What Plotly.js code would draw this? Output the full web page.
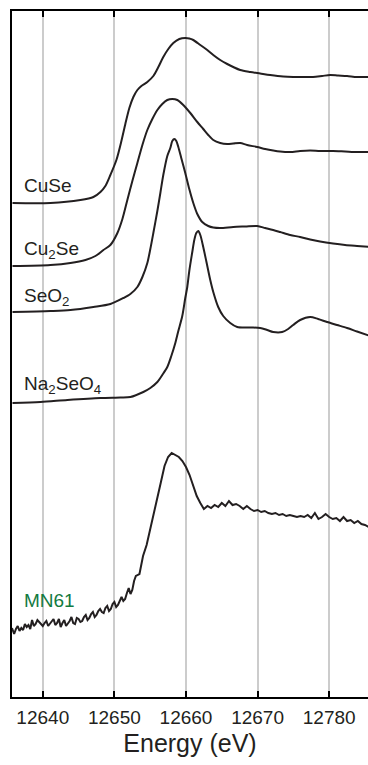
<!DOCTYPE html>
<html>
<head>
<meta charset="utf-8">
<script src="https://cdn.plot.ly/plotly-3.0.1.min.js"></script>
<style>
html,body{margin:0;padding:0;background:#fff;}
#chart{width:368px;height:765px;}
</style>
</head>
<body>
<div id="chart"></div>
<script>
// Energy (eV) and stacked normalized absorbance (a.u., offset for display)
const cuseE = [12635.77,12641.07,12645.26,12647.07,12648.05,12648.74,12649.44,12650.28,12650.98,12651.53,12652.09,12652.65,12653.21,12653.77,12654.60,12655.44,12656.14,12656.83,12657.53,12658.23,12659.07,12659.90,12660.46,12661.02,12662.00,12662.97,12663.81,12664.78,12665.76,12666.60,12667.57,12668.97,12670.36,12671.76,12673.57,12674.97,12676.36,12677.75,12679.01,12680.13,12681.24,12682.50,12683.89,12685.70];
const cuseY = [494,494,497,500,505,511,522,537,556,573,589,600,607,611,615,621,630,640,648,654,658,659,658.5,657,652,647,642,637,633,630,627,625,623.5,622,620.5,620,620,620,621,622,621.5,621,620,620];

const cu2seE = [12635.77,12641.07,12643.86,12645.96,12647.35,12648.47,12649.44,12650.42,12651.12,12651.81,12652.51,12653.21,12653.91,12654.60,12655.30,12656.00,12656.69,12657.39,12658.09,12658.79,12659.62,12660.60,12661.58,12662.41,12663.11,12663.81,12664.78,12665.76,12666.60,12667.57,12668.54,12669.94,12671.06,12672.18,12673.15,12674.55,12675.94,12677.34,12678.73,12680.54,12682.22,12683.89,12685.70];
const cu2seY = [431,432,434,437,441,447,452,464,478,497,516,534,552,567,578,587,593,597,598,597,592,584,575,568,562,557,554,553,553.5,554,552,550,548,546.5,545.5,545,546,546.5,546,546,545.5,545,545];

const seo2E = [12635.77,12641.07,12643.86,12647.07,12649.44,12651.26,12652.23,12653.21,12653.91,12654.60,12655.02,12655.44,12656.00,12656.42,12656.83,12657.39,12657.81,12658.09,12658.37,12658.65,12658.93,12659.34,12659.90,12660.46,12661.02,12661.58,12662.27,12663.11,12663.81,12664.78,12666.60,12668.27,12669.94,12671.06,12672.18,12673.15,12674.55,12675.94,12677.34,12678.73,12680.54,12682.22,12683.89,12685.70];
const seo2Y = [385,386,387,390,393,399,403,410,420,434,448,464,486,504,522,541,549,556,558,556,550,539,524,508,494,483,475,471,469.5,469,470,470.5,471,469,467,465,462,460,457.5,455.5,453.5,452,451,450];

const na2seo4E = [12635.77,12639.68,12643.44,12648.05,12650.84,12652.23,12654.04,12655.02,12656.00,12656.69,12657.39,12657.95,12658.51,12658.93,12659.48,12659.90,12660.18,12660.46,12660.88,12661.16,12661.44,12661.72,12662.00,12662.41,12662.83,12663.39,12663.81,12664.50,12665.20,12666.18,12667.15,12668.97,12670.36,12671.34,12672.18,12673.43,12674.27,12674.97,12675.94,12677.34,12678.45,12679.71,12681.10,12682.50,12683.89,12685.70];
const na2seo4Y = [294,295,297,299,299.5,300,305,309,315,322,330,341,354,366,381,399,410,426,445,457,464,466,462,450,436,417,405,390,381,374,370,369.5,369,367,365,365,368,372,377,380,378,375,372,369,365.5,361];

const mn61E = [12635.7,12636.0,12636.25,12636.5,12636.75,12637.0,12637.25,12637.5,12637.75,12638.0,12638.25,12638.5,12638.75,12639.0,12639.25,12639.5,12639.75,12640.0,12640.25,12640.5,12640.75,12641.0,12641.25,12641.5,12641.75,12642.0,12642.25,12642.5,12642.75,12643.0,12643.25,12643.5,12643.75,12644.0,12644.25,12644.5,12644.75,12645.0,12645.25,12645.5,12645.75,12646.0,12646.25,12646.5,12646.75,12647.0,12647.25,12647.5,12647.75,12648.0,12648.25,12648.5,12648.75,12649.0,12649.25,12649.5,12649.75,12650.0,12650.25,12650.5,12650.75,12651.0,12651.25,12651.5,12651.75,12652.0,12652.25,12652.5,12652.75,12653.0,12653.5,12654.0,12654.5,12655.0,12655.5,12656.0,12656.5,12657.0,12657.5,12658.0,12658.5,12659.0,12659.5,12660.0,12660.5,12661.0,12661.5,12662.0,12662.5,12663.0,12663.5,12664.0,12664.5,12665.0,12665.5,12666.0,12666.5,12667.0,12667.5,12668.0,12668.5,12669.0,12669.5,12670.0,12670.5,12671.0,12671.5,12672.0,12672.5,12673.0,12673.5,12674.0,12674.5,12675.0,12675.5,12676.0,12676.5,12677.0,12677.5,12678.0,12678.5,12679.0,12679.5,12680.0,12680.5,12681.0,12681.5,12682.0,12682.5,12683.0,12683.5,12684.0,12684.5,12685.0,12685.5];
const mn61Y = [69,63,68,71,66,69,67,73,70,72,68,77,71,73,77,75,72,71,74,76,71,73,75,78,72,74,78,70,74,77,71,73,76,80,74,73,79,78,75,76,80,82,77,79,83,85,80,82,86,88,85,84,89,91,86,88,93,95,90,92,97,100,96,98,104,109,103,107,116,121,123,141,152,167,182,198,215,231,240,244,242,240,236,230,222,212,201,194,188,191,189,192,190,194,191,196,192,193,191,188,191,188,186,187,185,186,184,183,184,182,183,181,182,181,180,181,180,182,179,184,178,180,183,180,178,179,176,180,176,177,174,176,173,172,170];

const tickVals = [12640,12650,12660,12670,12680];
const tickText = ['12640','12650','12660','12670','12780'];

const labelNames = ['CuSe','Cu<sub>2</sub>Se','SeO<sub>2</sub>','Na<sub>2</sub>SeO<sub>4</sub>','MN61'];
const labelY = [512,447,400,312,97];
const labelColors = ['#231f20','#231f20','#231f20','#231f20','#137a3f'];
const labelX = 12637.15;

const lineColor = '#231f20';
const seriesE = [cuseE, cu2seE, seo2E, na2seo4E, mn61E];
const seriesY = [cuseY, cu2seY, seo2Y, na2seo4Y, mn61Y];

const traces = seriesE.map((xs, i) => ({
  x: xs, y: seriesY[i], type: 'scatter', mode: 'lines',
  line: {color: lineColor, width: 2, shape: i === 4 ? 'linear' : 'spline', smoothing: 0.8},
  hoverinfo: 'skip', showlegend: false
}));

const annotations = labelNames.map((t, i) => ({
  x: labelX, y: labelY[i], xref: 'x', yref: 'y', text: t, showarrow: false,
  xanchor: 'left', yanchor: 'middle',
  font: {family: 'Liberation Sans, Arial, sans-serif', size: 19, color: labelColors[i]}
}));

const layout = {
  width: 368, height: 765,
  margin: {l: 12, r: 0, t: 11, b: 68, pad: 0},
  paper_bgcolor: '#ffffff', plot_bgcolor: '#ffffff',
  font: {family: 'Liberation Sans, Arial, sans-serif', color: '#231f20'},
  xaxis: {
    range: [12635.7, 12685.42],
    tickvals: tickVals, ticktext: tickText,
    ticks: 'inside', ticklen: 6, tickwidth: 2, tickcolor: '#000',
    ticklabelstandoff: 2,
    showline: true, linecolor: '#000', linewidth: 2, mirror: 'ticks',
    showgrid: true, gridcolor: '#cccccc', gridwidth: 2,
    zeroline: false,
    tickfont: {size: 19, color: '#231f20'},
    title: {text: 'Energy (eV)', font: {size: 25, color: '#231f20'}, standoff: 8}
  },
  yaxis: {
    range: [0, 686],
    showticklabels: false, ticks: '', showgrid: false, zeroline: false,
    showline: true, linecolor: '#000', linewidth: 2, mirror: false
  },
  annotations: annotations
};

Plotly.newPlot('chart', traces, layout, {displayModeBar: false, staticPlot: true});
</script>
</body>
</html>
